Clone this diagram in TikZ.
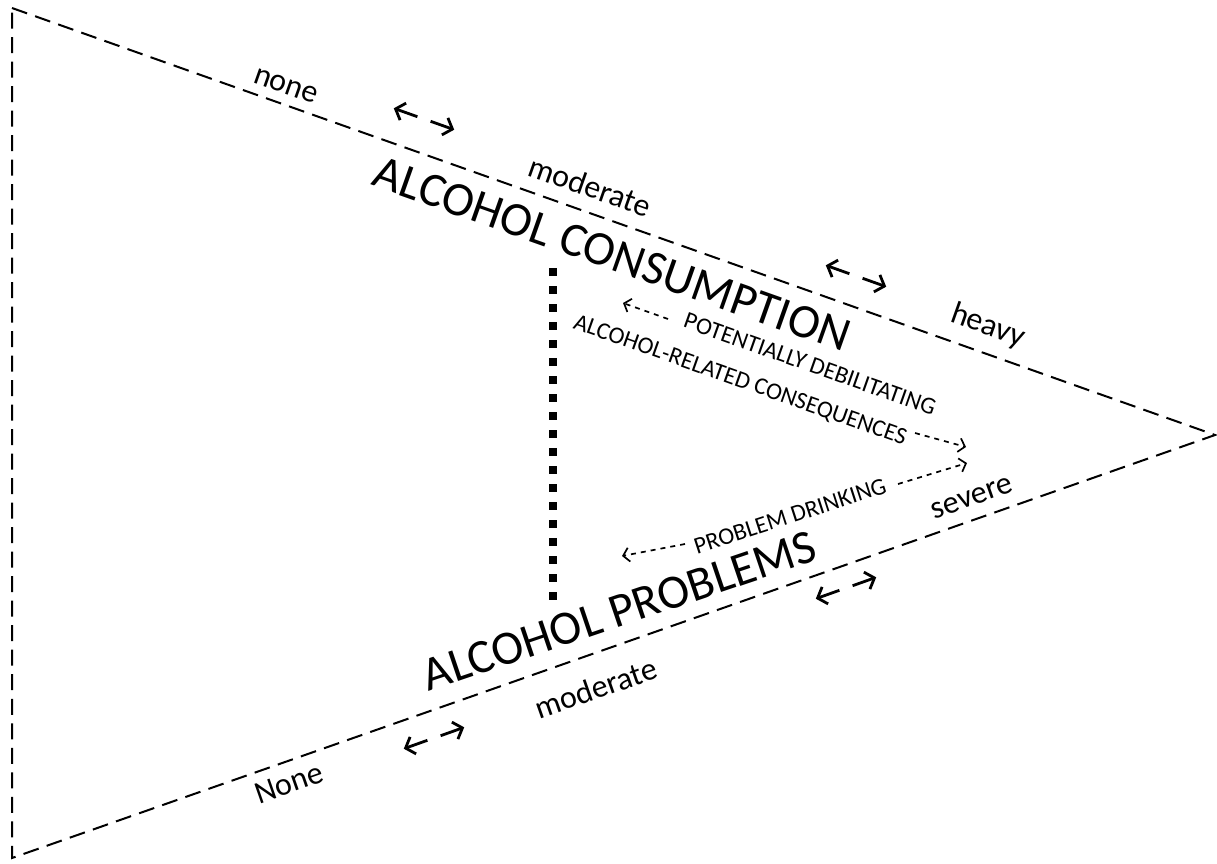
\documentclass[tikz,border=0pt]{standalone}
\usepackage{fontspec}
\setmainfont{Carlito}
\usetikzlibrary{arrows.meta}

\begin{document}
\begin{tikzpicture}[x=1pt, y=-1pt, >={Straight Barb[length=8pt,width=18pt]},
	edge/.style={dash pattern=on 16pt off 8.5pt, line width=2pt},
	twoway/.style={->, line width=2.8pt},
	hint/.style={->, dash pattern=on 5pt off 5pt, line width=1.7pt, >={Straight Barb[length=6pt,width=14pt]}},
	levellabel/.style={inner sep=0pt, font=\fontsize{32}{38}\selectfont},
	bigtitle/.style={inner sep=0pt, font=\fontsize{48}{56}\selectfont},
	tagtext/.style={inner sep=0pt, font=\fontsize{24}{28}\selectfont}]

\useasboundingbox (0,0) rectangle (1217,863);

% triangle
\coordinate (tl) at (12,8);
\coordinate (apex) at (1215,435);
\coordinate (bl) at (12,858);
\draw[edge] (tl) -- (apex) -- (bl) -- cycle;

% dotted link
\coordinate (linktop) at (553,268);
\coordinate (linkbot) at (553,601);
\draw[line width=8pt, dash pattern=on 8pt off 10pt] (linktop) -- (linkbot);

% upper side
\node[levellabel, rotate=-19.5] (none) at (286,86) {none};
\node[levellabel, rotate=-19.5] (modtop) at (590,186) {moderate};
\node[levellabel, rotate=-19.5] (heavy) at (988,326) {heavy};
\node[bigtitle, rotate=-19.5] (consumption) at (612,254) {ALCOHOL CONSUMPTION};

% lower side
\node[levellabel, rotate=19.3] (Nonebot) at (289,783) {None};
\node[levellabel, rotate=19.3] (modbot) at (596,688) {moderate};
\node[levellabel, rotate=19.3] (severe) at (972,498) {severe};
\node[bigtitle, rotate=18.7] (problems) at (619,611) {ALCOHOL PROBLEMS};

% range arrows
\coordinate (ca) at (424,119);
\coordinate (cb) at (856,276);
\coordinate (cc) at (846,588);
\coordinate (cd) at (434,738);
\draw[twoway] ([shift={(-6.6,-2.3)}]ca) -- ++(-23.6,-8.4);
\draw[twoway] ([shift={(6.6,2.3)}]ca) -- ++(23.6,8.4);
\draw[twoway] ([shift={(-6.6,-2.3)}]cb) -- ++(-23.6,-8.4);
\draw[twoway] ([shift={(6.6,2.3)}]cb) -- ++(23.6,8.4);
\draw[twoway] ([shift={(-6.6,2.3)}]cc) -- ++(-23.6,8.4);
\draw[twoway] ([shift={(6.6,-2.3)}]cc) -- ++(23.6,-8.4);
\draw[twoway] ([shift={(-6.6,2.3)}]cd) -- ++(-23.6,8.4);
\draw[twoway] ([shift={(6.6,-2.3)}]cd) -- ++(23.6,-8.4);

% consequences
\node[tagtext, rotate=-19.5] (potential) at (810,364) {POTENTIALLY DEBILITATING};
\node[tagtext, rotate=-19.5] (consequences) at (740,381) {ALCOHOL-RELATED CONSEQUENCES};
\node[tagtext, rotate=18] (drinking) at (790,516) {PROBLEM DRINKING};

\coordinate (ha) at (668,319);
\coordinate (hb) at (623,303);
\coordinate (hc) at (915,433);
\coordinate (hd) at (966,447);
\coordinate (he) at (898,484);
\coordinate (hf) at (967,463);
\coordinate (hg) at (685,544);
\coordinate (hh) at (622,556);
\draw[hint] (ha) -- (hb);
\draw[hint] (hc) -- (hd);
\draw[hint] (he) -- (hf);
\draw[hint] (hg) -- (hh);

\end{tikzpicture}
\end{document}
